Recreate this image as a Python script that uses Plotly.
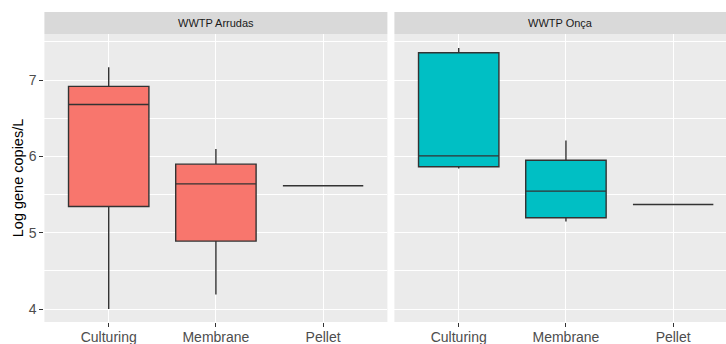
import plotly.graph_objects as go

categories = ["Culturing", "Membrane", "Pellet"]

# Five-number summaries
arrudas_low = [4.00, 4.19, 5.614]
arrudas_q1 = [5.344, 4.89, 5.614]
arrudas_med = [6.68, 5.64, 5.614]
arrudas_q3 = [6.917, 5.898, 5.614]
arrudas_high = [7.166, 6.098, 5.614]

onca_low = [5.84, 5.148, 5.37]
onca_q1 = [5.863, 5.196, 5.37]
onca_med = [6.007, 5.545, 5.37]
onca_q3 = [7.357, 5.95, 5.37]
onca_high = [7.42, 6.207, 5.37]

panel_titles = ["WWTP Arrudas", "WWTP Onça"]
y_ticks = [4, 5, 6, 7]

W, H = 726, 344
top_px, bottom_px = 34, 322
left_dom = [44.4 / W, 387.4 / W]
right_dom = [394.4 / W, 1.0]

fig = go.Figure()

def add_box(q1, med, q3, lo, hi, color, xa, ya):
    fig.add_trace(go.Box(
        x=categories, q1=q1, median=med, q3=q3,
        lowerfence=lo, upperfence=hi,
        fillcolor=color, line=dict(color="#333333", width=1.4),
        whiskerwidth=0, width=0.75, boxpoints=False,
        xaxis=xa, yaxis=ya, showlegend=False, hoverinfo="skip",
    ))

add_box(arrudas_q1, arrudas_med, arrudas_q3, arrudas_low, arrudas_high, "#F8766D", "x", "y")
add_box(onca_q1, onca_med, onca_q3, onca_low, onca_high, "#00BFC4", "x2", "y2")

font_family = "Liberation Sans, Arial, sans-serif"
xcommon = dict(
    type="category", categoryorder="array", categoryarray=categories,
    showgrid=True, gridcolor="white", gridwidth=1.1, zeroline=False,
    ticks="outside", ticklen=4, tickcolor="#333333", tickwidth=1,
    tickfont=dict(family=font_family, size=14, color="#4D4D4D"),
    ticklabelstandoff=-2,
    showline=False, automargin=False,
)
ycommon = dict(
    range=[3.83, 7.603], tickvals=y_ticks,
    showgrid=True, gridcolor="white", gridwidth=1.1, zeroline=False,
    minor=dict(dtick=0.5, tick0=0, showgrid=True, gridcolor="white", gridwidth=0.5),
    showline=False, automargin=False,
)

strip_h = (top_px - 12) / (bottom_px - top_px)

fig.update_layout(
    width=W, height=H,
    margin=dict(l=0, r=0, t=top_px, b=H - bottom_px, pad=0),
    paper_bgcolor="white", plot_bgcolor="#EBEBEB",
    font=dict(family=font_family),
    xaxis=dict(xcommon, domain=left_dom, range=[0.4 - 1, 3.6 - 1], anchor="y"),
    xaxis2=dict(xcommon, domain=right_dom, range=[0.4 - 1, 3.493 - 1], anchor="y2"),
    yaxis=dict(ycommon, domain=[0, 1], anchor="x",
               ticks="outside", ticklen=4, tickcolor="#333333", tickwidth=1,
               tickfont=dict(family=font_family, size=14, color="#4D4D4D"),
               title=dict(text="Log gene copies/L",
                          font=dict(family=font_family, size=14.5, color="black"),
                          standoff=1)),
    yaxis2=dict(ycommon, domain=[0, 1], anchor="x2", matches="y",
                showticklabels=False, ticks=""),
)

for dom, title in zip([left_dom, right_dom], panel_titles):
    fig.add_shape(type="rect", xref="paper", yref="paper",
                  x0=dom[0], x1=dom[1], y0=1.0, y1=1.0 + strip_h,
                  fillcolor="#D9D9D9", line=dict(width=0), layer="below")
    fig.add_annotation(xref="paper", yref="paper",
                       x=(dom[0] + min(dom[1], (dom[0] + 343 / W))) / 2,
                       y=1.0 + strip_h / 2, text=title, showarrow=False,
                       font=dict(family=font_family, size=11, color="#1A1A1A"),
                       xanchor="center", yanchor="middle")

fig.write_html("out.html", config={"displayModeBar": False},
               post_script="document.body.style.margin='0';document.body.style.overflow='hidden';")
